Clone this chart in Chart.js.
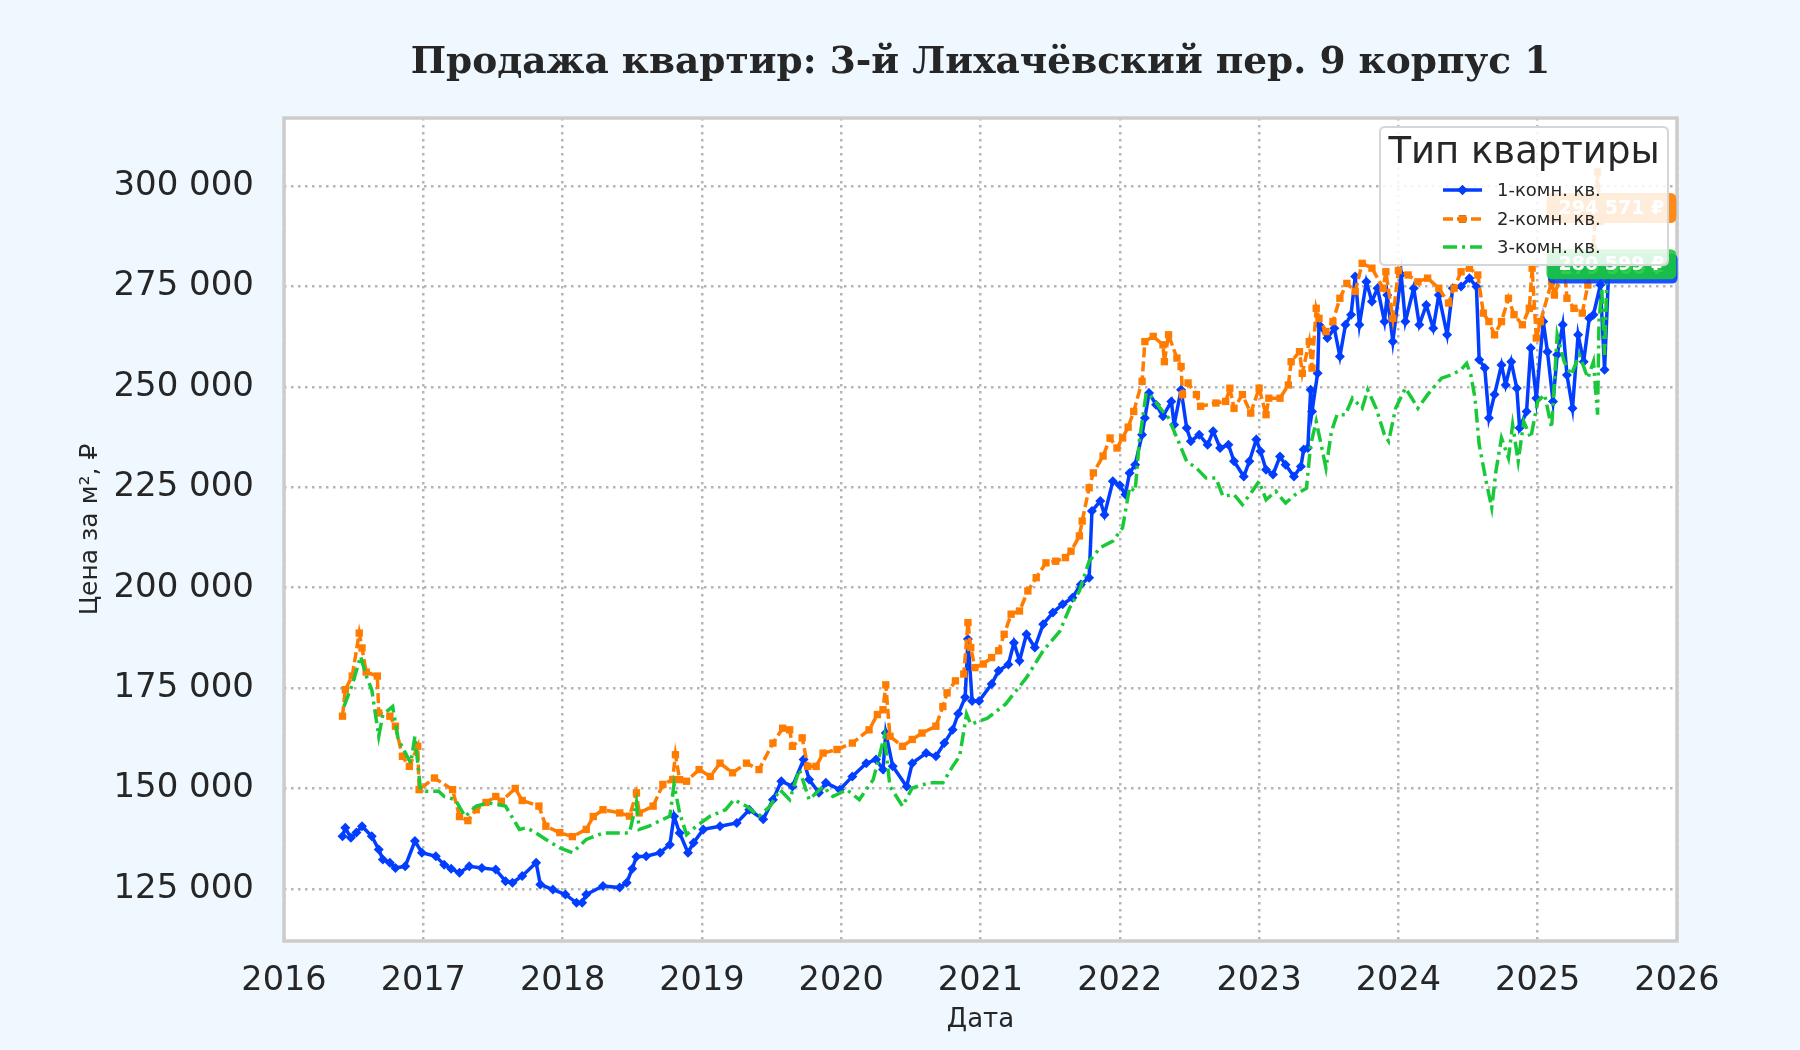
<!DOCTYPE html>
<html>
<head>
<meta charset="utf-8">
<script src="https://cdn.jsdelivr.net/npm/chart.js@4.4.1/dist/chart.umd.min.js"></script>
<style>
  html, body { margin: 0; padding: 0; background: #F0F8FF; }
  #wrap { width: 1800px; height: 1050px; }
</style>
</head>
<body>
<div id="wrap"><canvas id="c" width="1800" height="1050"></canvas></div>
<script>
// ---- DATA (dates as decimal years, prices in thousands of rubles per m²) ----
const chartTitle = 'Продажа квартир: 3-й Лихачёвский пер. 9 корпус 1';
const seriesNames = ['1-комн. кв.', '2-комн. кв.', '3-комн. кв.'];
const xTitle = 'Дата';
const yTitle = 'Цена за м², ₽';
const legendTitle = 'Тип квартиры';

const dates1 = [2016.42,2016.44,2016.48,2016.52,2016.56,2016.63,2016.68,2016.71,2016.76,2016.80,2016.87,2016.94,2016.99,2017.09,2017.15,2017.20,2017.26,2017.33,2017.42,2017.52,2017.59,2017.64,2017.71,2017.81,2017.84,2017.93,2018.02,2018.10,2018.14,2018.17,2018.29,2018.41,2018.46,2018.50,2018.53,2018.60,2018.70,2018.77,2018.80,2018.84,2018.90,2018.94,2019.01,2019.13,2019.25,2019.34,2019.44,2019.51,2019.57,2019.65,2019.73,2019.77,2019.84,2019.89,2019.99,2020.08,2020.18,2020.25,2020.30,2020.32,2020.37,2020.47,2020.51,2020.61,2020.68,2020.74,2020.80,2020.84,2020.89,2020.91,2020.94,2020.99,2021.08,2021.13,2021.20,2021.24,2021.28,2021.33,2021.39,2021.45,2021.52,2021.59,2021.66,2021.72,2021.78,2021.80,2021.86,2021.89,2021.95,2022.00,2022.04,2022.07,2022.11,2022.16,2022.18,2022.21,2022.26,2022.31,2022.37,2022.39,2022.44,2022.48,2022.51,2022.57,2022.63,2022.67,2022.72,2022.78,2022.82,2022.89,2022.93,2022.98,2023.01,2023.05,2023.10,2023.15,2023.19,2023.25,2023.30,2023.32,2023.35,2023.37,2023.38,2023.42,2023.43,2023.49,2023.54,2023.58,2023.62,2023.66,2023.69,2023.72,2023.77,2023.81,2023.85,2023.90,2023.92,2023.96,2024.02,2024.05,2024.11,2024.15,2024.20,2024.25,2024.29,2024.35,2024.39,2024.45,2024.51,2024.56,2024.58,2024.62,2024.65,2024.69,2024.74,2024.77,2024.81,2024.85,2024.87,2024.92,2024.95,2024.99,2025.04,2025.07,2025.11,2025.14,2025.18,2025.21,2025.25,2025.29,2025.33,2025.37,2025.40,2025.45,2025.48,2025.51];
const prices1 = [138.1,140.2,137.7,139.0,140.6,138.1,134.8,132.3,131.5,130.2,130.6,136.9,134.0,133.1,131.0,130.0,129.0,130.6,130.2,129.8,126.9,126.5,128.2,131.5,126.1,124.8,123.6,121.5,121.5,123.6,125.7,125.3,126.5,130.0,133.0,133.1,134.0,136.0,143.1,138.9,134.0,136.5,139.8,140.6,141.4,144.7,142.3,147.2,151.8,150.5,157.2,152.2,148.9,151.4,149.7,153.0,156.3,157.2,154.7,163.8,155.5,150.5,156.3,158.8,158.0,161.3,164.6,168.6,172.7,187.2,171.8,171.8,176.0,179.3,180.9,186.3,181.8,188.4,185.1,190.9,193.8,195.9,197.5,200.8,202.5,219.1,221.6,218.2,226.5,225.5,223.2,228.6,230.6,238.1,242.3,248.5,245.6,242.7,246.4,240.6,249.3,239.8,236.5,238.1,235.6,239.0,234.8,235.6,231.5,227.7,231.5,236.9,234.0,229.4,228.2,232.7,230.6,227.7,230.2,234.4,234.8,249.3,243.9,253.4,265.5,262.2,264.6,257.6,265.5,268.0,277.5,265.5,276.2,271.3,274.6,266.3,272.9,261.3,278.0,266.3,274.6,265.5,270.4,264.6,272.9,263.0,274.6,275.0,277.1,275.0,256.8,254.7,242.3,248.1,255.5,250.5,256.3,249.7,239.8,243.9,259.7,247.2,266.3,258.8,246.4,258.0,265.5,253.0,244.7,263.0,256.3,267.1,268.0,275.4,254.3,279.5];

const dates2 = [2016.42,2016.44,2016.49,2016.54,2016.56,2016.59,2016.67,2016.68,2016.76,2016.80,2016.85,2016.90,2016.96,2016.97,2017.08,2017.21,2017.26,2017.32,2017.38,2017.45,2017.52,2017.56,2017.66,2017.71,2017.83,2017.88,2017.98,2018.07,2018.17,2018.22,2018.29,2018.41,2018.48,2018.53,2018.55,2018.65,2018.72,2018.79,2018.81,2018.84,2018.89,2018.98,2019.06,2019.13,2019.22,2019.32,2019.41,2019.51,2019.58,2019.63,2019.65,2019.72,2019.76,2019.82,2019.87,2019.97,2020.08,2020.20,2020.26,2020.30,2020.32,2020.35,2020.44,2020.51,2020.58,2020.68,2020.73,2020.76,2020.82,2020.88,2020.91,2020.93,2020.96,2021.02,2021.08,2021.13,2021.17,2021.22,2021.28,2021.34,2021.40,2021.47,2021.54,2021.61,2021.65,2021.71,2021.73,2021.78,2021.81,2021.88,2021.93,2021.98,2022.02,2022.06,2022.10,2022.16,2022.18,2022.24,2022.31,2022.32,2022.35,2022.41,2022.44,2022.45,2022.49,2022.55,2022.58,2022.69,2022.76,2022.79,2022.82,2022.88,2022.94,2023.00,2023.05,2023.07,2023.15,2023.21,2023.23,2023.29,2023.31,2023.36,2023.38,2023.41,2023.43,2023.48,2023.53,2023.58,2023.63,2023.69,2023.74,2023.81,2023.89,2023.91,2023.96,2024.00,2024.07,2024.14,2024.21,2024.29,2024.36,2024.40,2024.45,2024.51,2024.57,2024.61,2024.65,2024.69,2024.74,2024.79,2024.83,2024.89,2024.94,2024.96,2024.99,2025.02,2025.10,2025.12,2025.19,2025.21,2025.26,2025.32,2025.36,2025.40,2025.43,2025.45,2025.50];
const prices2 = [168.0,174.6,178.0,188.7,185.0,179.0,178.0,168.8,168.0,165.5,158.0,155.5,160.5,149.7,152.6,149.7,143.0,142.0,144.7,146.5,148.0,146.8,150.0,147.0,145.6,140.6,139.0,138.0,139.8,143.0,144.7,143.9,143.1,148.9,143.9,145.6,151.0,152.2,158.4,152.2,151.8,154.7,153.0,156.3,153.9,156.3,154.7,161.3,165.0,164.6,160.5,162.6,155.5,155.5,158.8,159.7,161.3,164.6,168.4,169.6,175.8,163.0,160.5,162.2,163.8,165.5,170.4,173.8,176.8,178.5,191.3,185.1,180.1,181.0,182.6,184.3,188.4,193.4,194.2,199.2,202.5,206.2,206.6,207.5,209.1,212.9,216.6,224.9,228.6,232.8,237.3,234.8,237.3,240.0,243.9,251.4,261.3,262.6,260.5,256.3,263.0,257.2,255.1,248.1,251.0,248.1,245.2,246.0,246.4,249.7,244.7,248.1,243.5,249.7,243.1,247.2,247.2,250.5,256.3,258.8,253.4,261.3,254.7,269.6,267.1,263.8,266.3,272.1,275.8,273.8,280.8,279.6,274.6,278.7,267.1,279.0,277.9,276.2,277.1,274.6,270.9,274.6,278.7,279.6,277.9,268.4,266.3,263.0,266.3,272.1,268.0,265.5,269.6,279.6,262.2,266.3,276.2,272.9,280.4,272.1,269.6,268.4,275.4,284.5,303.6,291.2,294.571];

const dates3 = [2016.43,2016.49,2016.55,2016.59,2016.63,2016.68,2016.71,2016.78,2016.82,2016.91,2016.94,2016.98,2017.02,2017.11,2017.15,2017.23,2017.30,2017.38,2017.47,2017.59,2017.69,2017.74,2017.81,2017.88,2017.98,2018.07,2018.17,2018.29,2018.38,2018.48,2018.53,2018.55,2018.62,2018.69,2018.77,2018.80,2018.84,2018.89,2018.96,2019.06,2019.17,2019.23,2019.32,2019.41,2019.49,2019.56,2019.63,2019.70,2019.77,2019.87,2019.94,2020.04,2020.13,2020.23,2020.31,2020.35,2020.44,2020.51,2020.63,2020.73,2020.80,2020.85,2020.90,2020.93,2021.05,2021.18,2021.33,2021.45,2021.57,2021.64,2021.71,2021.78,2021.86,2021.95,2022.02,2022.07,2022.11,2022.14,2022.19,2022.24,2022.29,2022.35,2022.42,2022.48,2022.55,2022.62,2022.69,2022.74,2022.82,2022.88,2022.95,2023.00,2023.05,2023.12,2023.19,2023.26,2023.34,2023.37,2023.41,2023.44,2023.48,2023.52,2023.56,2023.62,2023.67,2023.74,2023.78,2023.84,2023.90,2023.93,2023.98,2024.05,2024.10,2024.14,2024.21,2024.31,2024.38,2024.45,2024.49,2024.52,2024.55,2024.58,2024.63,2024.67,2024.70,2024.74,2024.79,2024.82,2024.86,2024.90,2024.95,2025.00,2025.05,2025.10,2025.14,2025.19,2025.24,2025.30,2025.36,2025.40,2025.43,2025.44,2025.46,2025.48,2025.50];
const prices3 = [170.4,175.8,182.9,178.0,174.6,163.0,168.4,170.4,162.2,156.3,163.0,149.7,149.3,149.3,148.0,147.2,143.0,145.6,146.4,145.6,139.8,140.2,138.9,137.3,135.2,134.0,137.3,138.9,138.9,138.9,146.5,139.8,140.6,141.8,143.1,151.0,143.9,138.5,140.6,143.1,144.7,147.2,145.6,143.1,145.6,149.7,147.2,154.7,147.2,150.5,148.0,149.7,147.2,152.2,163.0,150.5,145.6,150.1,151.4,151.4,155.5,158.0,168.5,166.0,167.5,171.0,177.6,184.3,189.2,195.0,199.2,206.6,210.0,211.6,214.9,225.0,224.0,236.5,248.5,247.2,244.7,242.3,236.5,231.5,229.8,227.3,227.3,222.8,223.2,220.7,224.0,226.5,221.9,224.0,221.1,223.2,224.8,235.6,241.4,236.5,229.8,239.0,243.1,243.1,247.2,244.7,249.3,244.7,238.1,236.5,244.7,249.7,247.0,244.7,248.1,252.2,253.0,254.3,255.9,253.0,247.2,235.6,226.5,219.9,229.0,237.3,232.3,240.6,231.5,241.4,237.3,246.4,248.1,239.8,263.0,256.3,253.0,258.0,252.2,256.3,243.1,266.3,274.6,258.0,280.599];

const yTickValues = [125000, 150000, 175000, 200000, 225000, 250000, 275000, 300000];
const xTickYears = [2016, 2017, 2018, 2019, 2020, 2021, 2022, 2023, 2024, 2025, 2026];

// ---- STYLE ----
const colors = ['#023eff', '#ff7c00', '#1ac938'];
const textColor = '#262626';
const fontFamily = "'DejaVu Sans', sans-serif";

function toPoints(xs, ys) { return xs.map((x, i) => ({ x: x, y: Math.round(ys[i] * 1000) })); }
function fmt(v) { return String(Math.round(v)).replace(/\B(?=(\d{3})+(?!\d))/g, ' '); }

const dashes = [[], [10, 4], [14, 5, 3, 5]];
const pStyles = ['rectRot', 'rect', false];
const pRadius = [5, 5.2, 0];

const datasets = [
  { label: seriesNames[0], data: toPoints(dates1, prices1), order: 3 },
  { label: seriesNames[1], data: toPoints(dates2, prices2), order: 2 },
  { label: seriesNames[2], data: toPoints(dates3, prices3), order: 1 }
].map((d, i) => Object.assign(d, {
  borderColor: colors[i], backgroundColor: colors[i],
  borderWidth: 3.5, borderDash: dashes[i], tension: 0,
  pointStyle: pStyles[i] || 'circle', pointRadius: pRadius[i],
  pointBorderWidth: 0, pointHoverRadius: 0,
  pointBackgroundColor: colors[i], pointBorderColor: colors[i]
}));

const framePlugin = {
  id: 'frame',
  beforeDraw(chart) {
    const { ctx, chartArea: a } = chart;
    ctx.save();
    ctx.fillStyle = '#ffffff';
    ctx.fillRect(a.left, a.top, a.right - a.left, a.bottom - a.top);
    ctx.restore();
  },
  beforeDatasetsDraw(chart) {
    const { ctx, chartArea: a } = chart;
    ctx.save();
    ctx.strokeStyle = '#cccccc';
    ctx.lineWidth = 3.5;
    ctx.strokeRect(a.left, a.top, a.right - a.left, a.bottom - a.top);
    ctx.restore();
  }
};

function roundRect(ctx, x, y, w, h, r) {
  ctx.beginPath();
  ctx.moveTo(x + r, y);
  ctx.lineTo(x + w - r, y); ctx.quadraticCurveTo(x + w, y, x + w, y + r);
  ctx.lineTo(x + w, y + h - r); ctx.quadraticCurveTo(x + w, y + h, x + w - r, y + h);
  ctx.lineTo(x + r, y + h); ctx.quadraticCurveTo(x, y + h, x, y + h - r);
  ctx.lineTo(x, y + r); ctx.quadraticCurveTo(x, y, x + r, y);
  ctx.closePath();
}

const lastLabelPlugin = {
  id: 'lastLabels',
  afterDatasetsDraw(chart) {
    const { ctx, scales } = chart;
    ctx.save();
    ctx.font = "bold 19px 'DejaVu Sans'";
    ctx.textAlign = 'center';
    ctx.textBaseline = 'middle';
    chart.data.datasets.forEach((ds, i) => {
      const last = ds.data[ds.data.length - 1];
      const px = scales.x.getPixelForValue(last.x) + 4;
      const py = scales.y.getPixelForValue(last.y);
      const txt = fmt(last.y) + ' ₽';
      const w = ctx.measureText(txt).width + 24;
      const h = 30;
      ctx.globalAlpha = 0.9;
      ctx.fillStyle = colors[i];
      roundRect(ctx, px - w / 2, py - h / 2, w, h, 6);
      ctx.fill();
      ctx.globalAlpha = 1;
      ctx.fillStyle = '#ffffff';
      ctx.fillText(txt, px, py + 1);
    });
    ctx.restore();
  }
};

const legendPlugin = {
  id: 'customLegend',
  afterDraw(chart) {
    const { ctx } = chart;
    const bx = 1380, by = 127, bw = 288, bh = 138;
    ctx.save();
    ctx.globalAlpha = 0.85;
    ctx.fillStyle = '#ffffff';
    roundRect(ctx, bx, by, bw, bh, 5);
    ctx.fill();
    ctx.globalAlpha = 1;
    ctx.strokeStyle = '#d6d6d6';
    ctx.lineWidth = 2;
    roundRect(ctx, bx, by, bw, bh, 5);
    ctx.stroke();
    ctx.fillStyle = textColor;
    ctx.font = "37px 'DejaVu Sans'";
    ctx.textAlign = 'center';
    ctx.textBaseline = 'middle';
    ctx.fillText(legendTitle, bx + bw / 2, by + 26);
    const rows = [190, 219, 247];
    chart.data.datasets.forEach((ds, i) => {
      const y = rows[i];
      ctx.strokeStyle = colors[i];
      ctx.lineWidth = 3.5;
      ctx.setLineDash(dashes[i]);
      ctx.beginPath();
      ctx.moveTo(1443, y); ctx.lineTo(1482, y);
      ctx.stroke();
      ctx.setLineDash([]);
      if (pStyles[i]) {
        Chart.helpers.drawPoint(ctx, { pointStyle: pStyles[i], radius: pRadius[i], borderWidth: 0, rotation: 0 }, 1462.5, y);
        ctx.fillStyle = colors[i];
        ctx.fill();
      }
      ctx.fillStyle = textColor;
      ctx.font = "18px 'DejaVu Sans'";
      ctx.textAlign = 'left';
      ctx.fillText(ds.label, 1497, y + 1);
    });
    ctx.restore();
  }
};

const gridCommon = { color: '#b5b5b5', lineWidth: 2.5, drawTicks: false, borderDash: [2.5, 4.5] };

new Chart(document.getElementById('c'), {
  type: 'line',
  data: { datasets: datasets },
  options: {
    responsive: false,
    animation: false,
    devicePixelRatio: 1,
    layout: { padding: { left: 0, right: 123, top: 0, bottom: 0 } },
    plugins: {
      legend: { display: false },
      tooltip: { enabled: false },
      title: {
        display: true, text: chartTitle, color: textColor, fullSize: false,
        font: { family: "'DejaVu Serif', serif", size: 37.5, weight: 'bold' },
        padding: { top: 41, bottom: 32 }
      }
    },
    scales: {
      x: {
        type: 'linear', min: xTickYears[0], max: xTickYears[xTickYears.length - 1],
        grid: gridCommon,
        border: { display: false, dash: [2.5, 4.5] },
        afterBuildTicks(scale) { scale.ticks = xTickYears.map(v => ({ value: v })); },
        ticks: { color: textColor, padding: 20, font: { family: fontFamily, size: 33.5 },
          callback: v => String(v) },
        title: { display: true, text: xTitle, color: textColor, font: { family: fontFamily, size: 26 },
          padding: { top: 0, bottom: 14 } },
        afterFit(scale) { scale.height = 109; }
      },
      y: {
        type: 'linear', min: 112000, max: 317000,
        grid: gridCommon,
        border: { display: false, dash: [2.5, 4.5] },
        afterBuildTicks(scale) { scale.ticks = yTickValues.map(v => ({ value: v })); },
        ticks: { color: textColor, padding: 30, font: { family: fontFamily, size: 34 },
          callback: v => fmt(v) },
        title: { display: true, text: yTitle, color: textColor, font: { family: fontFamily, size: 25 },
          padding: { top: 75, bottom: 0 } },
        afterFit(scale) { scale.width = 284; }
      }
    }
  },
  plugins: [framePlugin, lastLabelPlugin, legendPlugin]
});
</script>
</body>
</html>
